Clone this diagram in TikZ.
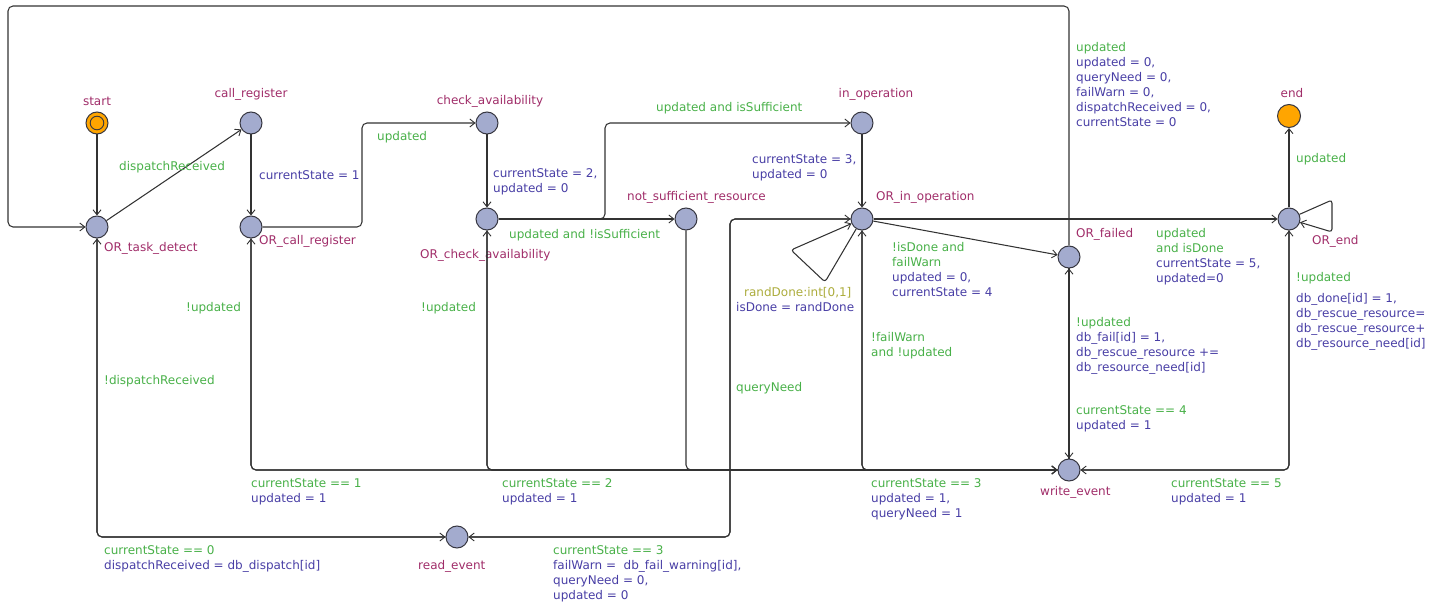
\documentclass[tikz,border=0pt]{standalone}
\usepackage{fontspec}
\setmainfont{DejaVu Sans}
\usetikzlibrary{arrows.meta}

\definecolor{locname}{RGB}{160,45,105}
\definecolor{grd}{RGB}{72,176,72}
\definecolor{asg}{RGB}{72,62,165}
\definecolor{sel}{RGB}{172,172,60}
\definecolor{locfill}{RGB}{163,171,206}
\definecolor{locline}{RGB}{55,55,65}
\definecolor{initfill}{RGB}{255,165,0}
\definecolor{edgecol}{RGB}{50,50,50}

\tikzset{
  loc/.style={circle, draw=locline, line width=1pt, fill=locfill, minimum size=22pt, inner sep=0pt},
  initloc/.style={loc, fill=initfill, minimum size=22pt,
    path picture={\draw[locline, line width=0.9pt] (path picture bounding box.center) circle (6.8pt);}},
  endloc/.style={loc, fill=initfill, minimum size=23pt},
  conn/.style={draw=edgecol, line width=1.05pt, rounded corners=5pt,
    -{Straight Barb[length=5pt,width=8pt,line width=0.9pt]}},
  txt/.style={font=\fontsize{12}{15}\selectfont, inner sep=0pt, align=left},
  lname/.style={txt, text=locname},
  oneline/.style={txt, anchor=west},
  lines/.style={txt, anchor=north west},
}

\begin{document}
\begin{tikzpicture}[x=1pt,y=-1pt]
\useasboundingbox (0,0) rectangle (1444,604);

% locations
\node[initloc] (start) at (97,123) {};
\node[loc] (call_register) at (251,123) {};
\node[loc] (OR_task_detect) at (97,227) {};
\node[loc] (OR_call_register) at (251,227) {};
\node[loc] (check_availability) at (487,123) {};
\node[loc] (OR_check_availability) at (487,219) {};
\node[loc] (not_sufficient_resource) at (686,219) {};
\node[loc] (in_operation) at (862,123) {};
\node[loc] (OR_in_operation) at (862,219) {};
\node[loc] (OR_failed) at (1069,257) {};
\node[endloc] (end) at (1289,116) {};
\node[loc] (OR_end) at (1289,219) {};
\node[loc] (write_event) at (1069,470) {};
\node[loc] (read_event) at (457,537) {};

% location names
\node[lname] (n_start) at (97,101) {start};
\node[lname] (n_call) at (251,94) {call\_register};
\node[lname] (n_check) at (490,101) {check\_availability};
\node[lname] (n_inop) at (876,94) {in\_operation};
\node[lname] (n_end) at (1292,93) {end};
\node[lname, anchor=west] (n_ortd) at (104,248) {OR\_task\_detect};
\node[lname, anchor=west] (n_orcr) at (259,241) {OR\_call\_register};
\node[lname, anchor=west] (n_orca) at (420,255) {OR\_check\_availability};
\node[lname, anchor=west] (n_nsr) at (627,197) {not\_sufficient\_resource};
\node[lname, anchor=west] (n_orio) at (876,197) {OR\_in\_operation};
\node[lname, anchor=west] (n_orf) at (1076,234) {OR\_failed};
\node[lname, anchor=west] (n_ore) at (1312,241) {OR\_end};
\node[lname, anchor=west] (n_we) at (1040,492) {write\_event};
\node[lname, anchor=west] (n_re) at (418,566) {read\_event};

% corner points of routed connectors
\coordinate (k1) at (362,170);
\coordinate (k2) at (605,170);
\coordinate (k3) at (730,380);
\coordinate (top_r) at (1069,6);
\coordinate (top_l) at (8,6);
\coordinate (lp1) at (825,282);
\coordinate (lp2) at (791,250);
\coordinate (le1) at (1332,200);
\coordinate (le2) at (1332,232);

% main flow
\draw[conn] (start) -- (OR_task_detect);
\draw[conn] (OR_task_detect) -- (call_register);
\draw[conn] (call_register) -- (OR_call_register);
\draw[conn] (OR_call_register) -| (k1) |- (check_availability);
\draw[conn] (check_availability) -- (OR_check_availability);
\draw[conn] (OR_check_availability) -- (not_sufficient_resource);
\draw[conn] (OR_check_availability) -| (k2) |- (in_operation);
\draw[conn] (in_operation) -- (OR_in_operation);
\draw[conn, rounded corners=3pt] (OR_in_operation) -- (lp1) -- (lp2) -- (OR_in_operation);
\draw[conn] (OR_in_operation) -- (OR_end);
\draw[conn] (OR_in_operation) -- (OR_failed);
\draw[conn] (OR_failed) -- (top_r) -- (top_l) |- (OR_task_detect);
\draw[conn] (OR_end) -- (end);
\draw[conn, rounded corners=3pt] (OR_end) -- (le1) -- (le2) -- (OR_end);

% exchanges with write_event
\draw[conn] (OR_failed) -- (write_event);
\draw[conn] (write_event) -- (OR_failed);
\draw[conn] (OR_call_register) |- (write_event);
\draw[conn] (write_event) -| (OR_call_register);
\draw[conn] (OR_check_availability) |- (write_event);
\draw[conn] (write_event) -| (OR_check_availability);
\draw[conn] (not_sufficient_resource) |- (write_event);
\draw[conn] (OR_in_operation) |- (write_event);
\draw[conn] (write_event) -| (OR_in_operation);
\draw[conn] (OR_end) |- (write_event);
\draw[conn] (write_event) -| (OR_end);

% exchanges with read_event
\draw[conn] (OR_task_detect) |- (read_event);
\draw[conn] (read_event) -| (OR_task_detect);
\draw[conn] (OR_in_operation) -| (k3) |- (read_event);
\draw[conn] (read_event) -| (k3) |- (OR_in_operation);

% edge labels
\node[oneline, text=grd] (g1) at (119,167) {dispatchReceived};
\node[oneline, text=asg] (a1) at (259,175) {currentState = 1};
\node[oneline, text=grd] (g2) at (377,137) {updated};
\node[lines, text=asg] (a2) at (493,168.2) {currentState = 2,\\updated = 0};
\node[oneline, text=grd] (g3) at (656,108) {updated and isSufficient};
\node[oneline, text=grd] (g4) at (509,235) {updated and !isSufficient};
\node[lines, text=asg] (a3) at (752,154.2) {currentState = 3,\\updated = 0};
\node[lines] (s1) at (736,287.2) {\hspace*{8pt}\textcolor{sel}{randDone:int[0,1]}\\\textcolor{asg}{isDone = randDone}};
\node[lines] (e1) at (892,242.2) {\textcolor{grd}{!isDone and}\\\textcolor{grd}{failWarn}\\\textcolor{asg}{updated = 0,}\\\textcolor{asg}{currentState = 4}};
\node[lines, text=grd] (g5) at (871,332.2) {!failWarn\\and !updated};
\node[oneline, text=grd] (g6) at (736,388) {queryNeed};
\node[lines] (e2) at (1076,42.2) {\textcolor{grd}{updated}\\\textcolor{asg}{updated = 0,}\\\textcolor{asg}{queryNeed = 0,}\\\textcolor{asg}{failWarn = 0,}\\\textcolor{asg}{dispatchReceived = 0,}\\\textcolor{asg}{currentState = 0}};
\node[lines] (e3) at (1156,228.2) {\textcolor{grd}{updated}\\\textcolor{grd}{and isDone}\\\textcolor{asg}{currentState = 5,}\\\textcolor{asg}{updated=0}};
\node[oneline, text=grd] (g7) at (1296,159) {updated};
\node[oneline, text=grd] (g8) at (1296,278) {!updated};
\node[lines, text=asg] (a4) at (1296,293.2) {db\_done[id] = 1,\\db\_rescue\_resource=\\db\_rescue\_resource+\\db\_resource\_need[id]};
\node[lines] (e4) at (1076,317.2) {\textcolor{grd}{!updated}\\\textcolor{asg}{db\_fail[id] = 1,}\\\textcolor{asg}{db\_rescue\_resource +=}\\\textcolor{asg}{db\_resource\_need[id]}};
\node[lines] (e5) at (1076,405.2) {\textcolor{grd}{currentState == 4}\\\textcolor{asg}{updated = 1}};
\node[lines] (e6) at (1171,478.2) {\textcolor{grd}{currentState == 5}\\\textcolor{asg}{updated = 1}};
\node[lines] (e7) at (871,478.2) {\textcolor{grd}{currentState == 3}\\\textcolor{asg}{updated = 1,}\\\textcolor{asg}{queryNeed = 1}};
\node[lines] (e8) at (502,478.2) {\textcolor{grd}{currentState == 2}\\\textcolor{asg}{updated = 1}};
\node[lines] (e9) at (251,478.2) {\textcolor{grd}{currentState == 1}\\\textcolor{asg}{updated = 1}};
\node[oneline, text=grd] (g9) at (186,308) {!updated};
\node[oneline, text=grd] (g10) at (421,308) {!updated};
\node[oneline, text=grd] (g11) at (104,381) {!dispatchReceived};
\node[lines] (e10) at (104,545.2) {\textcolor{grd}{currentState == 0}\\\textcolor{asg}{dispatchReceived = db\_dispatch[id]}};
\node[lines] (e11) at (553,545.2) {\textcolor{grd}{currentState == 3}\\\textcolor{asg}{failWarn = \ db\_fail\_warning[id],}\\\textcolor{asg}{queryNeed = 0,}\\\textcolor{asg}{updated = 0}};
\end{tikzpicture}
\end{document}
